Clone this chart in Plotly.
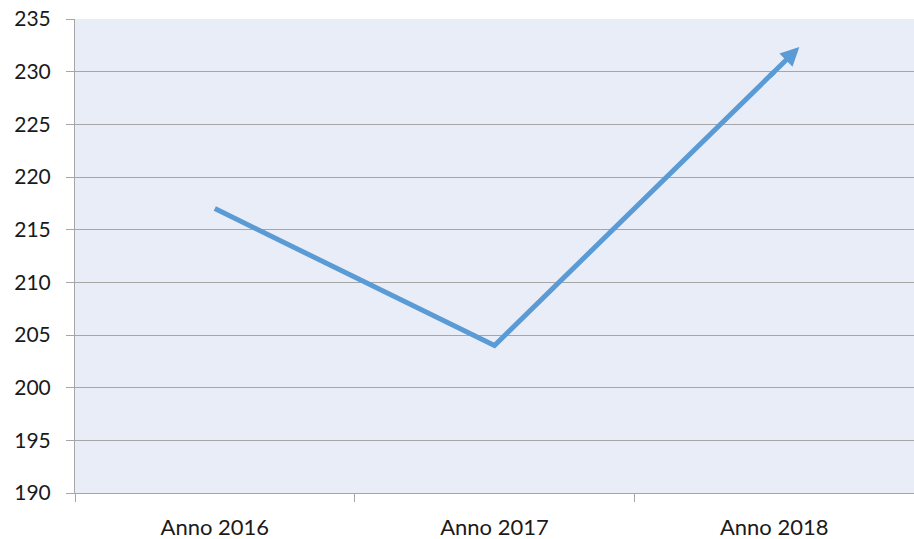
import plotly.graph_objects as go

categories = ["Anno 2016", "Anno 2017", "Anno 2018"]
values = [217, 204, 230]
y_ticks = [190, 195, 200, 205, 210, 215, 220, 225, 230, 235]

line_color = "#5B9BD5"
grid_color = "#A6A6A6"

fig = go.Figure()
fig.add_trace(go.Scatter(
    x=categories, y=values, mode="lines",
    line=dict(color=line_color, width=5),
    hoverinfo="skip", showlegend=False,
))

# arrow head extending the last segment (category index positions)
n = len(values) - 1
ext = 0.09
tip_x = n + ext
tip_y = values[n] + (values[n] - values[n - 1]) * ext
fig.add_annotation(
    x=tip_x, y=tip_y, ax=n - 0.02, ay=values[n] - (values[n] - values[n - 1]) * 0.02,
    xref="x", yref="y", axref="x", ayref="y",
    showarrow=True, arrowhead=2, arrowsize=0.75, arrowwidth=5,
    arrowcolor=line_color, text="",
)

fig.update_layout(
    width=914, height=539,
    margin=dict(l=75, r=0, t=19, b=46),
    paper_bgcolor="white",
    plot_bgcolor="#E9EDF7",
    font=dict(family="Lato, Open Sans, sans-serif", color="#1a1a1a", size=21),
    xaxis=dict(
        type="category",
        range=[-0.5, 2.5],
        showgrid=False, zeroline=False,
        showline=True, linecolor=grid_color, linewidth=1,
        ticks="outside", ticklen=8, tickcolor=grid_color,
        tickson="boundaries",
        tickfont=dict(size=22),
        ticklabelstandoff=15,
        ticklabeloverflow="allow",
        automargin=False,
    ),
    yaxis=dict(
        range=[190, 235], tickmode="array", tickvals=y_ticks,
        showgrid=True, gridcolor=grid_color, gridwidth=1,
        zeroline=False,
        showline=True, linecolor=grid_color, linewidth=1,
        ticks="outside", ticklen=8, tickcolor=grid_color,
        ticklabelstandoff=11,
        ticklabeloverflow="allow",
        automargin=False,
    ),
)

# remove the default 8px page margin so the figure fills the window
fig.write_html(
    "out.html",
    config={"displayModeBar": False},
    post_script="document.body.style.margin='0';",
)
